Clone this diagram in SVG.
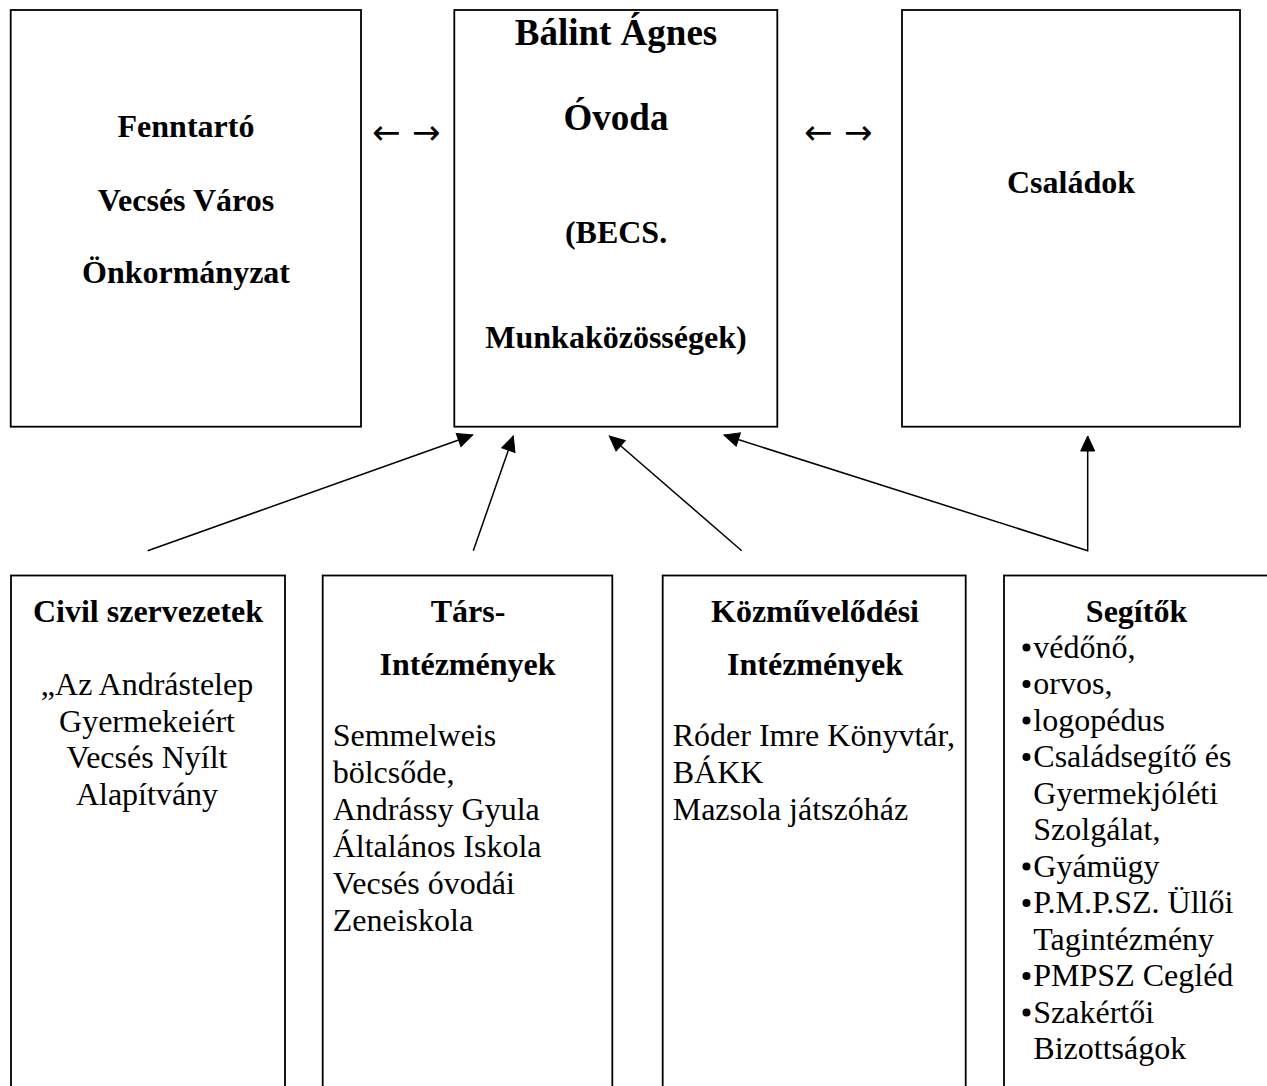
<svg xmlns="http://www.w3.org/2000/svg" width="1267" height="1086" viewBox="0 0 1267 1086">
<style>
  .box{fill:#fff;stroke:#000;stroke-width:1.8}
  text{font-family:"Liberation Serif","Times New Roman",serif;fill:#000}
  .h{font-size:32px;font-weight:bold;text-anchor:middle}
  .hb{font-size:37px;font-weight:bold;text-anchor:middle}
  .t{font-size:32px}
  .tc{font-size:32px;text-anchor:middle}
  .arr{font-family:"DejaVu Sans",sans-serif;font-size:34px}
  .con{fill:none;stroke:#000;stroke-width:1.5}
  .head{fill:#000;stroke:#000;stroke-width:1;stroke-linejoin:miter}
</style>
<defs>
  <marker id="ah" markerUnits="userSpaceOnUse" markerWidth="18" markerHeight="16" refX="15" refY="7" orient="auto" overflow="visible">
    <path class="head" d="M0,0 L15,7 L0,14 Z"/>
  </marker>
</defs>
<rect width="1267" height="1086" fill="#fff"/>

<g id="fenntarto">
  <rect class="box" x="10.7" y="10" width="350.3" height="416.7"/>
  <text class="h" x="186" y="137">Fenntartó</text>
  <text class="h" x="186" y="211">Vecsés Város</text>
  <text class="h" x="186" y="283">Önkormányzat</text>
</g>

<g id="ovoda">
  <rect class="box" x="454.3" y="10" width="323" height="416.7"/>
  <text class="hb" x="616" y="45">Bálint Ágnes</text>
  <text class="hb" x="616" y="130">Óvoda</text>
  <text class="h" x="616" y="243">(BECS.</text>
  <text class="h" x="616" y="348">Munkaközösségek)</text>
</g>

<g id="csaladok">
  <rect class="box" x="902" y="10" width="338" height="416.7"/>
  <text class="h" x="1071" y="193">Családok</text>
</g>

<g id="bidir-left">
  <text class="arr" x="372 400 412" y="144">← →</text>
</g>
<g id="bidir-right">
  <text class="arr" x="804 832 844" y="144">← →</text>
</g>

<g id="civil">
  <rect class="box" x="11" y="575.5" width="274" height="530"/>
  <text class="h" x="148" y="621.7">Civil szervezetek</text>
  <text class="tc" x="147" y="695">„Az Andrástelep</text>
  <text class="tc" x="147" y="731.5">Gyermekeiért</text>
  <text class="tc" x="147" y="768">Vecsés Nyílt</text>
  <text class="tc" x="147" y="804.5">Alapítvány</text>
</g>

<g id="tars">
  <rect class="box" x="322.7" y="575.5" width="289.6" height="530"/>
  <text class="h" x="468" y="621.7">Társ-</text>
  <text class="h" x="467.5" y="675">Intézmények</text>
  <text class="t" x="332.7" y="746">Semmelweis</text>
  <text class="t" x="332.7" y="783">bölcsőde,</text>
  <text class="t" x="332.7" y="820">Andrássy Gyula</text>
  <text class="t" x="332.7" y="857">Általános Iskola</text>
  <text class="t" x="332.7" y="894">Vecsés óvodái</text>
  <text class="t" x="332.7" y="931">Zeneiskola</text>
</g>

<g id="kozmuvelodesi">
  <rect class="box" x="662.7" y="575.5" width="303" height="530"/>
  <text class="h" x="815" y="621.7">Közművelődési</text>
  <text class="h" x="815" y="675">Intézmények</text>
  <text class="t" x="672.7" y="746">Róder Imre Könyvtár,</text>
  <text class="t" x="672.7" y="783">BÁKK</text>
  <text class="t" x="672.7" y="820">Mazsola játszóház</text>
</g>

<g id="segitok">
  <rect class="box" x="1004" y="575.5" width="280" height="530"/>
  <text class="h" x="1136.5" y="621.7">Segítők</text>
  <g fill="#000">
    <circle cx="1026.5" cy="647.5" r="4"/>
    <circle cx="1026.5" cy="684" r="4"/>
    <circle cx="1026.5" cy="720.5" r="4"/>
    <circle cx="1026.5" cy="757" r="4"/>
    <circle cx="1026.5" cy="866.5" r="4"/>
    <circle cx="1026.5" cy="903" r="4"/>
    <circle cx="1026.5" cy="976" r="4"/>
    <circle cx="1026.5" cy="1012.5" r="4"/>
  </g>
  <text class="t" x="1033.3" y="657.5">védőnő,</text>
  <text class="t" x="1033.3" y="694">orvos,</text>
  <text class="t" x="1033.3" y="730.5">logopédus</text>
  <text class="t" x="1033.3" y="767">Családsegítő és</text>
  <text class="t" x="1033.3" y="803.5">Gyermekjóléti</text>
  <text class="t" x="1033.3" y="840">Szolgálat,</text>
  <text class="t" x="1033.3" y="876.5">Gyámügy</text>
  <text class="t" x="1033.3" y="913">P.M.P.SZ. Üllői</text>
  <text class="t" x="1033.3" y="949.5">Tagintézmény</text>
  <text class="t" x="1033.3" y="986">PMPSZ Cegléd</text>
  <text class="t" x="1033.3" y="1022.5">Szakértői</text>
  <text class="t" x="1033.3" y="1059">Bizottságok</text>
</g>

<g id="connectors">
  <line class="con" x1="147.7" y1="550.7" x2="472.7" y2="435" marker-end="url(#ah)"/>
  <line class="con" x1="473.3" y1="550.7" x2="513.3" y2="436" marker-end="url(#ah)"/>
  <line class="con" x1="741.7" y1="550.7" x2="609.3" y2="436" marker-end="url(#ah)"/>
  <line class="con" x1="1087.7" y1="550.7" x2="724" y2="435" marker-end="url(#ah)"/>
  <line class="con" x1="1087.7" y1="551.4" x2="1087.7" y2="436" marker-end="url(#ah)"/>
</g>
</svg>
